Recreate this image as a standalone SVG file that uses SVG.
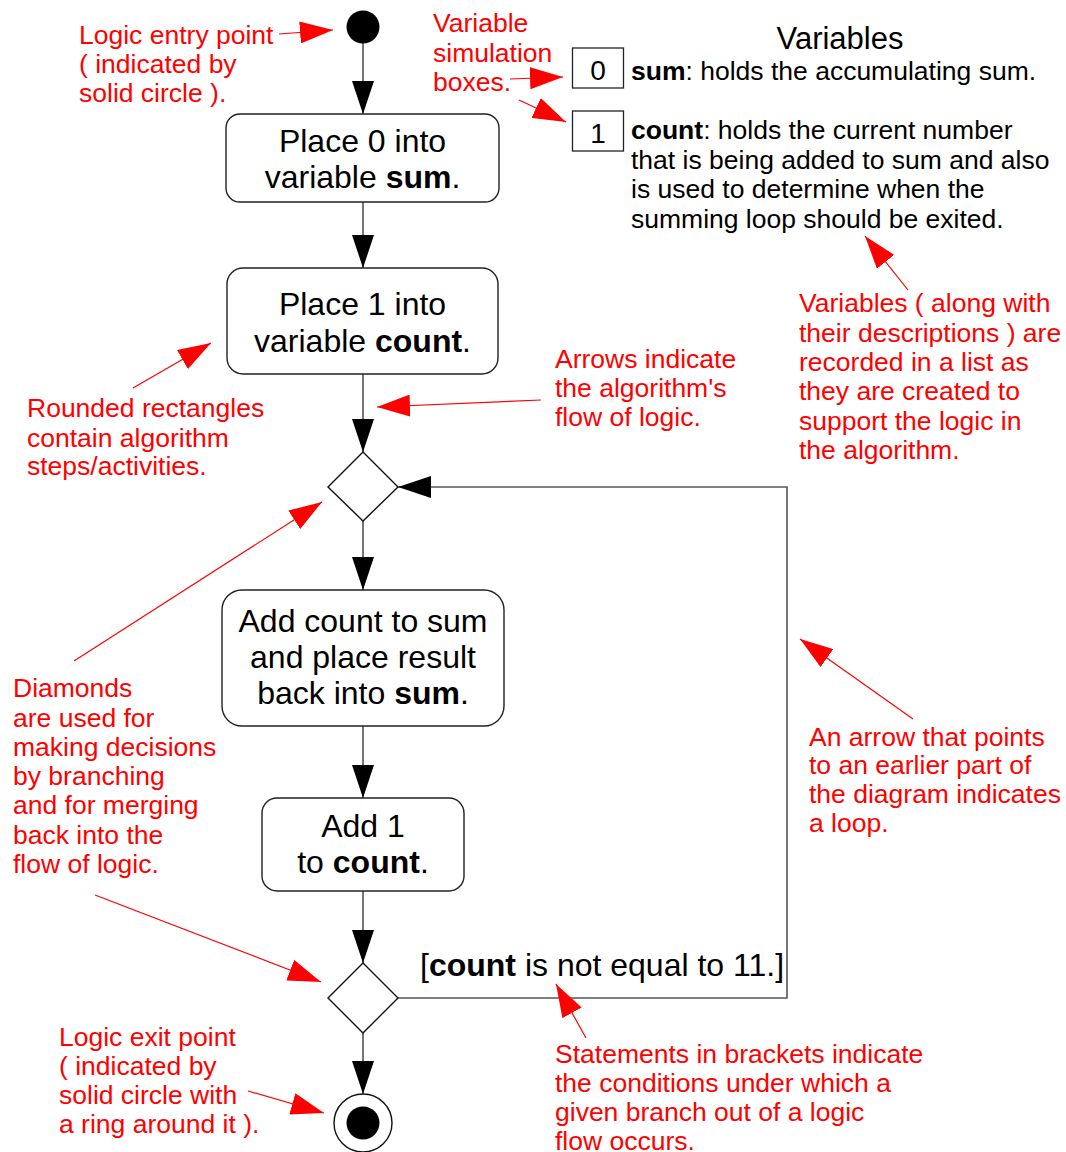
<svg xmlns="http://www.w3.org/2000/svg" width="1066" height="1152" viewBox="0 0 1066 1152">
  <style>
    text { font-family: "Liberation Sans", Arial, sans-serif; }
    .step { fill: #ffffff; stroke: #222222; stroke-width: 1.4; }
    .diamond { fill: #ffffff; stroke: #111111; stroke-width: 1.4; }
    .steptext { font-size: 32px; fill: #000000; text-anchor: middle; }
    .flow { fill: none; stroke: #555555; stroke-width: 1.6; }
    .note { font-size: 26.5px; fill: #ff0000; }
    .notearrow { fill: none; stroke: #ff0000; stroke-width: 1.2; }
    .desc { font-size: 26.5px; fill: #000000; }
    .valbox { fill: #ffffff; stroke: #222222; stroke-width: 1.3; }
    .val { font-size: 28px; fill: #000000; text-anchor: middle; }
    .b { font-weight: bold; }
  </style>
  <defs>
    <marker id="blackhead" markerUnits="userSpaceOnUse" markerWidth="34" markerHeight="22" refX="33" refY="11" orient="auto">
      <path d="M0,0 L33,11 L0,22 z" fill="#000000"/>
    </marker>
    <marker id="redhead" markerUnits="userSpaceOnUse" markerWidth="34" markerHeight="22" refX="33" refY="11" orient="auto">
      <path d="M0,0 L33,11 L0,22 z" fill="#ff0000"/>
    </marker>
  </defs>

  <rect width="1066" height="1152" fill="#ffffff"/>

  <!-- flow connectors -->
  <g id="connectors">
    <line class="flow" x1="363" y1="43" x2="363" y2="114" marker-end="url(#blackhead)"/>
    <line class="flow" x1="363" y1="202" x2="363" y2="268" marker-end="url(#blackhead)"/>
    <line class="flow" x1="363" y1="374" x2="363" y2="452" marker-end="url(#blackhead)"/>
    <line class="flow" x1="363" y1="521" x2="363" y2="590" marker-end="url(#blackhead)"/>
    <line class="flow" x1="363" y1="726" x2="363" y2="798" marker-end="url(#blackhead)"/>
    <line class="flow" x1="363" y1="891" x2="363" y2="963" marker-end="url(#blackhead)"/>
    <line class="flow" x1="363" y1="1033" x2="363" y2="1094" marker-end="url(#blackhead)"/>
    <polyline class="flow" points="398,998 787,998 787,487 398,487" marker-end="url(#blackhead)"/>
    <text id="guard" x="420" y="976" class="steptext" style="text-anchor:start">[<tspan class="b">count</tspan> is not equal to 11.]</text>
  </g>

  <!-- activity nodes -->
  <g id="start">
    <circle cx="363" cy="27" r="16.5" fill="#000000"/>
  </g>

  <g id="init-sum">
    <rect class="step" x="226" y="114" width="273" height="88" rx="14"/>
    <text class="steptext" x="362.5" y="152">Place 0 into</text>
    <text class="steptext" x="362.5" y="188">variable <tspan class="b">sum</tspan>.</text>
  </g>

  <g id="init-count">
    <rect class="step" x="227" y="268" width="271" height="106" rx="16"/>
    <text class="steptext" x="362.5" y="315">Place 1 into</text>
    <text class="steptext" x="362.5" y="352">variable <tspan class="b">count</tspan>.</text>
  </g>

  <g id="merge">
    <polygon class="diamond" points="363,452 398,487 363,521 328,487"/>
  </g>

  <g id="accumulate">
    <rect class="step" x="222" y="590" width="282" height="136" rx="20"/>
    <text class="steptext" x="363" y="632">Add count to sum</text>
    <text class="steptext" x="363" y="668">and place result</text>
    <text class="steptext" x="363" y="704">back into <tspan class="b">sum</tspan>.</text>
  </g>

  <g id="increment">
    <rect class="step" x="262" y="798" width="202" height="93" rx="15"/>
    <text class="steptext" x="363" y="837">Add 1</text>
    <text class="steptext" x="363" y="873">to <tspan class="b">count</tspan>.</text>
  </g>

  <g id="decision">
    <polygon class="diamond" points="363,963 398,998 363,1033 328,998"/>
  </g>

  <g id="end">
    <circle cx="363" cy="1123" r="29" fill="#ffffff" stroke="#111111" stroke-width="1.4"/>
    <circle cx="363" cy="1123" r="16.5" fill="#000000"/>
  </g>

  <!-- variable list -->
  <g id="variables">
    <text x="840" y="49" style="font-size:31px;text-anchor:middle">Variables</text>
    <rect class="valbox" x="572.5" y="48" width="51" height="40"/>
    <text class="val" x="598" y="80">0</text>
    <text class="desc" x="631" y="80"><tspan class="b">sum</tspan>: holds the accumulating sum.</text>
    <rect class="valbox" x="572.5" y="111" width="51" height="40"/>
    <text class="val" x="598" y="143">1</text>
    <text class="desc" x="631" y="139"><tspan class="b">count</tspan>: holds the current number</text>
    <text class="desc" x="631" y="169">that is being added to sum and also</text>
    <text class="desc" x="631" y="198">is used to determine when the</text>
    <text class="desc" x="631" y="228">summing loop should be exited.</text>
  </g>

  <!-- explanatory notes -->
  <g id="notes">
    <text class="note" x="79" y="43.5">Logic entry point</text>
    <text class="note" x="79" y="72.5">( indicated by</text>
    <text class="note" x="79" y="101.5">solid circle ).</text>
    <line class="notearrow" x1="279" y1="34" x2="333" y2="30" marker-end="url(#redhead)"/>

    <text class="note" x="433" y="32">Variable</text>
    <text class="note" x="433" y="62">simulation</text>
    <text class="note" x="433" y="91">boxes.</text>
    <line class="notearrow" x1="510" y1="79" x2="563" y2="77" marker-end="url(#redhead)"/>
    <line class="notearrow" x1="519" y1="100" x2="566" y2="122" marker-end="url(#redhead)"/>

    <text class="note" x="799" y="312">Variables ( along with</text>
    <text class="note" x="799" y="342">their descriptions ) are</text>
    <text class="note" x="799" y="371">recorded in a list as</text>
    <text class="note" x="799" y="400">they are created to</text>
    <text class="note" x="799" y="430">support the logic in</text>
    <text class="note" x="799" y="459">the algorithm.</text>
    <line class="notearrow" x1="908" y1="290" x2="865" y2="236" marker-end="url(#redhead)"/>

    <text class="note" x="555" y="368">Arrows indicate</text>
    <text class="note" x="555" y="397">the algorithm's</text>
    <text class="note" x="555" y="426">flow of logic.</text>
    <line class="notearrow" x1="541" y1="400" x2="377" y2="407" marker-end="url(#redhead)"/>

    <text class="note" x="27" y="417">Rounded rectangles</text>
    <text class="note" x="27" y="447">contain algorithm</text>
    <text class="note" x="27" y="475">steps/activities.</text>
    <line class="notearrow" x1="133" y1="388" x2="211" y2="343" marker-end="url(#redhead)"/>

    <text class="note" x="13" y="697">Diamonds</text>
    <text class="note" x="13" y="727">are used for</text>
    <text class="note" x="13" y="756">making decisions</text>
    <text class="note" x="13" y="785">by branching</text>
    <text class="note" x="13" y="814">and for merging</text>
    <text class="note" x="13" y="844">back into the</text>
    <text class="note" x="13" y="873">flow of logic.</text>
    <line class="notearrow" x1="74" y1="661" x2="322" y2="502" marker-end="url(#redhead)"/>
    <line class="notearrow" x1="95" y1="895" x2="321" y2="982" marker-end="url(#redhead)"/>

    <text class="note" x="809" y="746">An arrow that points</text>
    <text class="note" x="809" y="774">to an earlier part of</text>
    <text class="note" x="809" y="803">the diagram indicates</text>
    <text class="note" x="809" y="832">a loop.</text>
    <line class="notearrow" x1="913" y1="719" x2="800" y2="639" marker-end="url(#redhead)"/>

    <text class="note" x="59" y="1046">Logic exit point</text>
    <text class="note" x="59" y="1075">( indicated by</text>
    <text class="note" x="59" y="1104">solid circle with</text>
    <text class="note" x="59" y="1133">a ring around it ).</text>
    <line class="notearrow" x1="248" y1="1091" x2="324" y2="1113" marker-end="url(#redhead)"/>

    <text class="note" x="555" y="1063">Statements in brackets indicate</text>
    <text class="note" x="555" y="1092">the conditions under which a</text>
    <text class="note" x="555" y="1121">given branch out of a logic</text>
    <text class="note" x="555" y="1150">flow occurs.</text>
    <line class="notearrow" x1="586" y1="1038" x2="556" y2="984" marker-end="url(#redhead)"/>
  </g>
</svg>
